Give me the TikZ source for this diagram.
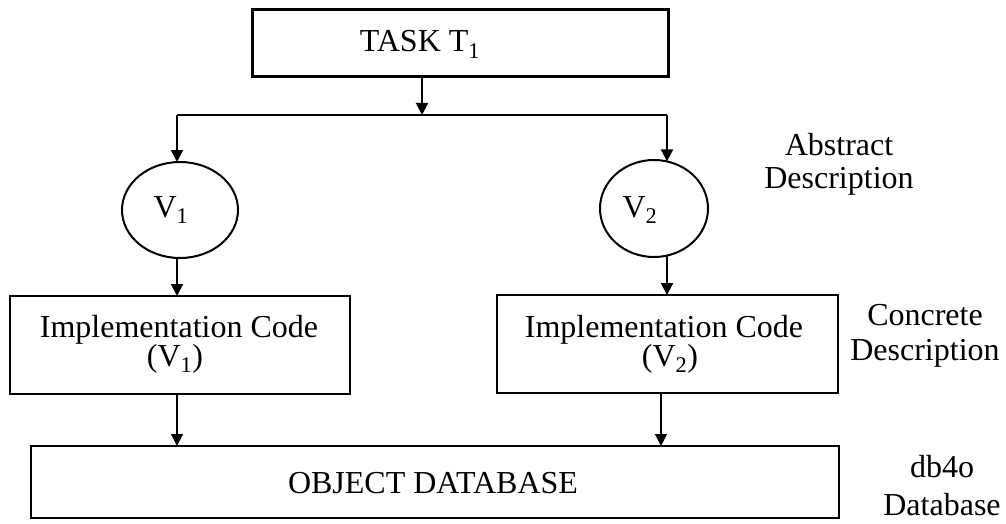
\documentclass[tikz,border=0pt]{standalone}
\usepackage{fontspec}
\setmainfont{Liberation Serif}
\usetikzlibrary{arrows.meta,shapes.geometric}
\begin{document}
\begin{tikzpicture}[x=1pt,y=-1pt,
  every node/.style={inner sep=0pt,outer sep=0pt},
  txt/.style={font=\fontsize{32}{34}\selectfont,anchor=base},
  frame/.style={draw,line width=#1,rectangle},
  oval/.style={draw,line width=2pt,ellipse},
  link/.style={line width=2pt,-{Triangle[length=12pt,width=12pt]}},
  thinlink/.style={line width=1.2pt,-{Triangle[length=12pt,width=12pt]}},
  rail/.style={line width=2pt}
]
\useasboundingbox (0,0) rectangle (1006,524);

% boxes and ovals
\node[frame=3pt,minimum width=416pt,minimum height=67pt] (task) at (460,43.5) {};
\node[oval,minimum width=116pt,minimum height=96pt] (v1) at (180,210) {};
\node[oval,minimum width=108pt,minimum height=97pt] (v2) at (654,208.5) {};
\node[frame=2pt,minimum width=340pt,minimum height=98pt] (impl1) at (180,345) {};
\node[frame=2pt,minimum width=341pt,minimum height=98pt] (impl2) at (667.5,344) {};
\node[frame=2.5pt,minimum width=808pt,minimum height=72pt] (db) at (435,482) {};

% texts inside
\node[txt] (tasklbl) at (420,52) {TASK T\textsubscript{1}};
\node[txt] (v1lbl) at (171,217) {V\textsubscript{1}};
\node[txt] (v2lbl) at (640,217) {V\textsubscript{2}};
\node[txt] (impl1a) at (179,337) {Implementation Code};
\node[txt] (impl1b) at (175,366) {(V\textsubscript{1})};
\node[txt] (impl2a) at (664,337) {Implementation Code};
\node[txt] (impl2b) at (670,366) {(V\textsubscript{2})};
\node[txt] (dblbl) at (433,493) {OBJECT DATABASE};

% side labels
\node[txt] (abs1) at (839,155) {Abstract};
\node[txt] (abs2) at (839,188) {Description};
\node[txt] (con1) at (925,325) {Concrete};
\node[txt] (con2) at (925,360) {Description};
\node[txt] (dbo1) at (942,477) {db4o};
\node[txt] (dbo2) at (942,515) {Database};

% connectors
\coordinate (split) at (422,115);
\coordinate (sl) at (177,115);
\coordinate (sr) at (667,115);
\coordinate (dr) at (661,420);

\draw[link] (split |- task.south) -- (split);
\draw[rail] (sl) -- (sr);
\draw[link] (sl) -- (sl |- v1.north);
\draw[link] (sr) -- (sr |- v2.75);
\draw[link] (sl |- v1.south) -- (sl |- impl1.north);
\draw[link] (sr |- v2.-75) -- (sr |- impl2.north);
\draw[thinlink] (sl |- impl1.south) -- (sl |- db.north);
\draw[thinlink] (dr |- impl2.south) -- (dr |- db.north);
\end{tikzpicture}
\end{document}
